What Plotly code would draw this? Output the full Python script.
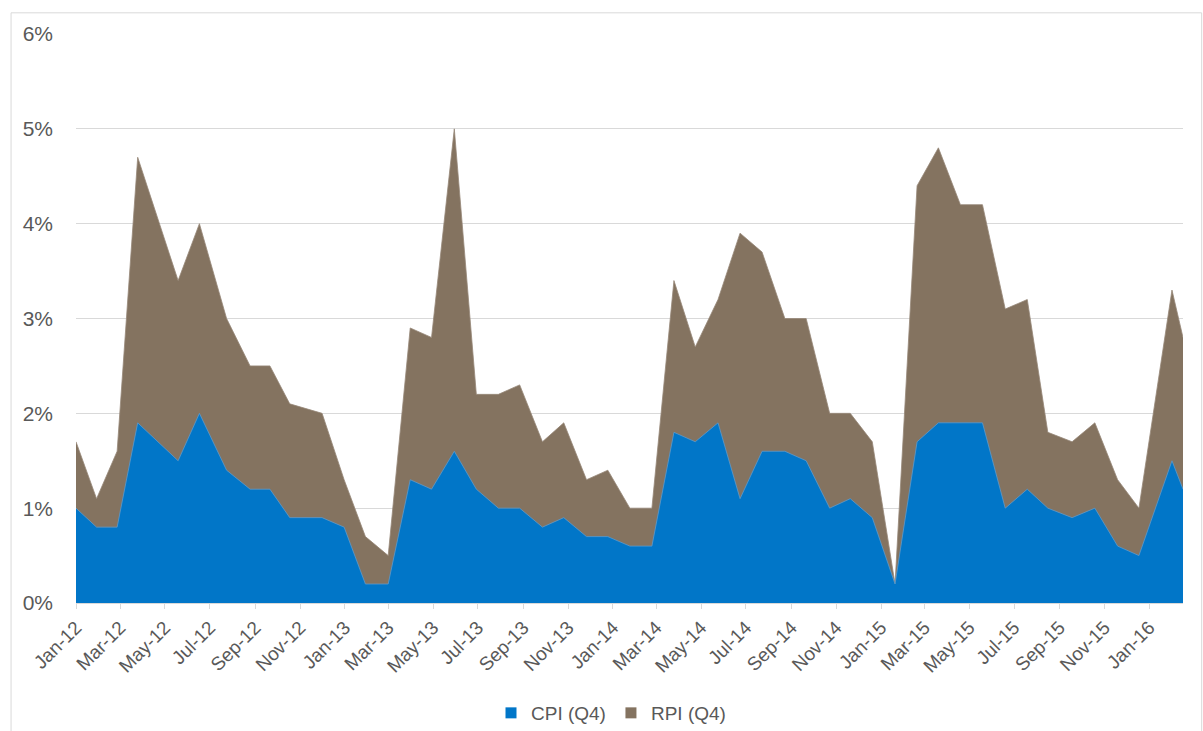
import plotly.graph_objects as go

# ---- data -------------------------------------------------------------
dates = [
    "2012-01-01", "2012-01-29", "2012-02-26", "2012-03-25", "2012-05-19",
    "2012-06-17", "2012-07-24", "2012-08-25", "2012-09-21", "2012-10-18",
    "2012-12-01", "2012-12-31", "2013-01-29", "2013-03-01", "2013-03-31",
    "2013-04-29", "2013-05-30", "2013-06-29", "2013-07-29", "2013-08-27",
    "2013-09-27", "2013-10-26", "2013-11-26", "2013-12-25", "2014-01-24",
    "2014-02-23", "2014-03-25", "2014-04-23", "2014-05-24", "2014-06-23",
    "2014-07-23", "2014-08-23", "2014-09-21", "2014-10-23", "2014-11-20",
    "2014-12-20", "2015-01-20", "2015-02-19", "2015-03-20", "2015-04-19",
    "2015-05-19", "2015-06-19", "2015-07-19", "2015-08-16", "2015-09-18",
    "2015-10-19", "2015-11-19", "2015-12-18", "2016-02-01", "2016-02-16",
]
cpi = [
    1.0, 0.8, 0.8, 1.9, 1.5, 2.0, 1.4, 1.2, 1.2, 0.9,
    0.9, 0.8, 0.2, 0.2, 1.3, 1.2, 1.6, 1.2, 1.0, 1.0,
    0.8, 0.9, 0.7, 0.7, 0.6, 0.6, 1.8, 1.7, 1.9, 1.1,
    1.6, 1.6, 1.5, 1.0, 1.1, 0.9, 0.2, 1.7, 1.9, 1.9,
    1.9, 1.0, 1.2, 1.0, 0.9, 1.0, 0.6, 0.5, 1.5, 1.2,
]
rpi = [
    1.7, 1.1, 1.6, 4.7, 3.4, 4.0, 3.0, 2.5, 2.5, 2.1,
    2.0, 1.3, 0.7, 0.5, 2.9, 2.8, 5.0, 2.2, 2.2, 2.3,
    1.7, 1.9, 1.3, 1.4, 1.0, 1.0, 3.4, 2.7, 3.2, 3.9,
    3.7, 3.0, 3.0, 2.0, 2.0, 1.7, 0.2, 4.4, 4.8, 4.2,
    4.2, 3.1, 3.2, 1.8, 1.7, 1.9, 1.3, 1.0, 3.3, 2.8,
]
tick_dates = [
    "2012-01-01", "2012-03-01", "2012-05-01", "2012-07-01", "2012-09-01",
    "2012-11-01", "2013-01-01", "2013-03-01", "2013-05-01", "2013-07-01",
    "2013-09-01", "2013-11-01", "2014-01-01", "2014-03-01", "2014-05-01",
    "2014-07-01", "2014-09-01", "2014-11-01", "2015-01-01", "2015-03-01",
    "2015-05-01", "2015-07-01", "2015-09-01", "2015-11-01", "2016-01-01",
]
tick_labels = [
    "Jan-12", "Mar-12", "May-12", "Jul-12", "Sep-12", "Nov-12",
    "Jan-13", "Mar-13", "May-13", "Jul-13", "Sep-13", "Nov-13",
    "Jan-14", "Mar-14", "May-14", "Jul-14", "Sep-14", "Nov-14",
    "Jan-15", "Mar-15", "May-15", "Jul-15", "Sep-15", "Nov-15",
    "Jan-16",
]
y_ticks = [0, 1, 2, 3, 4, 5, 6]
y_labels = ["0%", "1%", "2%", "3%", "4%", "5%", "6%"]

BLUE = "#0176C8"
BROWN = "#847360"
TEXT = "#595959"
GRID = "#D9D9D9"
FONT = "Liberation Sans, Arial, sans-serif"

fig = go.Figure()

# areas (RPI behind, CPI in front)
fig.add_trace(go.Scatter(
    x=dates, y=rpi, mode="lines", fill="tozeroy",
    fillcolor=BROWN, line=dict(color="#978878", width=0.8),
    showlegend=False, hoverinfo="skip"))
fig.add_trace(go.Scatter(
    x=dates, y=cpi, mode="lines", fill="tozeroy",
    fillcolor=BLUE, line=dict(color="#5E9BCB", width=0.8),
    showlegend=False, hoverinfo="skip"))

# legend entries (square markers)
fig.add_trace(go.Scatter(
    x=[None], y=[None], mode="markers", name="CPI (Q4)",
    marker=dict(symbol="square", size=11, color=BLUE)))
fig.add_trace(go.Scatter(
    x=[None], y=[None], mode="markers", name="RPI (Q4)",
    marker=dict(symbol="square", size=11, color=BROWN)))

W, H = 1203, 731
L, R, T, B = 75.5, 19.7, 33.7, 127.7
pw, ph = W - L - R, H - T - B


def px_x(p):
    return (p - L) / pw


def px_y(p):
    return (H - B - p) / ph


fig.update_layout(
    width=W, height=H,
    margin=dict(l=L, r=R, t=T, b=B, pad=0, autoexpand=False),
    paper_bgcolor="white", plot_bgcolor="white",
    font=dict(family=FONT, color=TEXT),
    xaxis=dict(
        type="date",
        range=[dates[0], dates[-1]],
        tickvals=tick_dates, ticktext=tick_labels,
        tickangle=-45,
        tickfont=dict(size=19, color=TEXT, family=FONT),
        ticks="outside", ticklen=5, tickcolor=GRID, tickwidth=1,
        showline=True, linecolor=GRID, linewidth=1,
        showgrid=False, zeroline=False, automargin=False,
    ),
    yaxis=dict(
        range=[0, 6],
        tickvals=y_ticks, ticktext=y_labels,
        tickfont=dict(size=21, color=TEXT, family=FONT),
        showgrid=True, gridcolor=GRID, gridwidth=1,
        zeroline=False, showline=False, ticks="",
        ticklabelstandoff=22, automargin=False,
    ),
    legend=dict(
        orientation="h", xref="container", yref="container",
        x=611 / W, xanchor="center",
        y=(H - 713) / H, yanchor="middle",
        font=dict(size=19, color=TEXT, family=FONT),
        itemwidth=30, tracegroupgap=0, bgcolor="rgba(0,0,0,0)",
    ),
    shapes=[dict(
        type="rect", xref="paper", yref="paper",
        x0=px_x(10.5), x1=px_x(1202), y0=px_y(740), y1=px_y(12.5),
        line=dict(color=GRID, width=1), fillcolor="rgba(0,0,0,0)",
        layer="below")],
)

fig.write_html("out.html")
